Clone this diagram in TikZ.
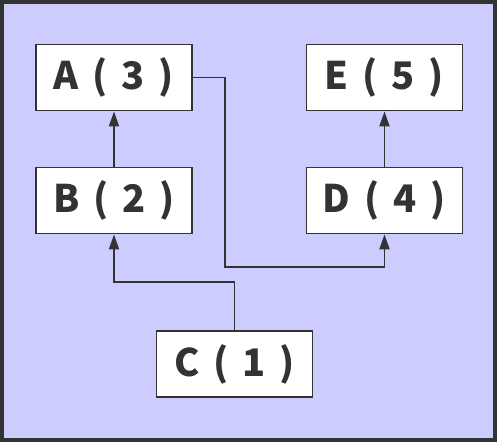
\documentclass[tikz,border=0pt]{standalone}
\usepackage{fontspec}
\setmainfont{Noto Sans CJK SC}[WordSpace=1.6]
\usetikzlibrary{arrows.meta}
\definecolor{bgfill}{HTML}{CCCCFF}
\definecolor{ink}{HTML}{333333}
\begin{document}
\begin{tikzpicture}[x=1pt,y=-1pt,
  box/.style={draw=ink, fill=white, line width=1.8pt, minimum width=156pt, minimum height=66pt, inner sep=0pt, font=\bfseries\fontsize{38}{42}\selectfont, text=ink},
  conn/.style={draw=ink, line width=1.8pt, -{Triangle[length=15pt,width=10pt]}}]
\useasboundingbox (0,0) rectangle (500,445);
\draw[draw=ink, fill=bgfill, line width=3.5pt] (2,2) rectangle (495,440);
\node[box] (A) at (114,77.5) {A ( 3 )};
\node[box] (E) at (384.5,77.5) {E ( 5 )};
\node[box] (B) at (114,200.5) {B ( 2 )};
\node[box] (D) at (384.5,200.5) {D ( 4 )};
\node[box] (C) at (234.5,364) {C ( 1 )};
\coordinate (ja) at (225,267);
\coordinate (jc) at (114,282);
\draw[conn] (B.north) -- (A.south);
\draw[conn] (D.north) -- (E.south);
\draw[conn] (A.east) -| (ja) -| (D.south);
\draw[conn] (C.north) |- (jc) -- (B.south);
\end{tikzpicture}
\end{document}
